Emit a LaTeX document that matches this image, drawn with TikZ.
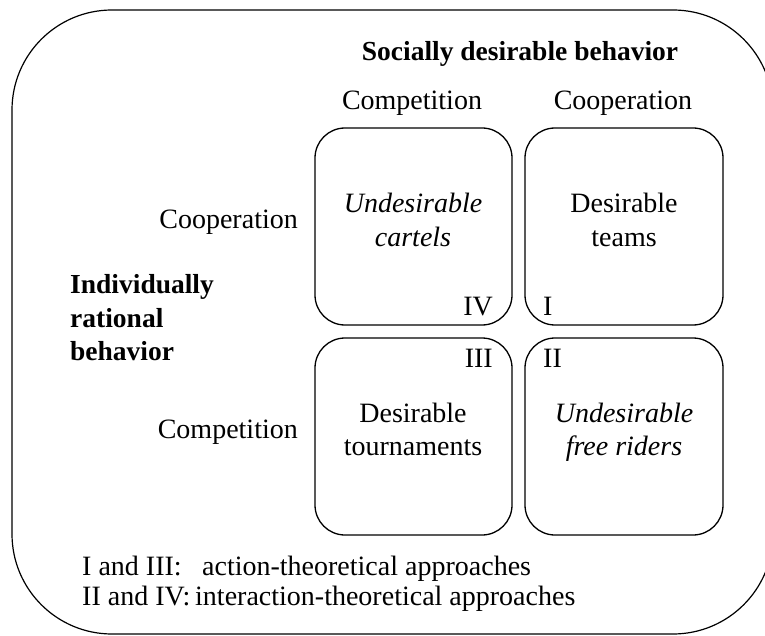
\documentclass[tikz,border=0pt]{standalone}
\usepackage{fontspec}
\setmainfont{Liberation Serif}
\begin{document}
\begin{tikzpicture}[x=1pt,y=-1pt,
  cell/.style={draw=black,line width=1.3pt,rounded corners=30pt},
  txt/.style={inner sep=0pt,font=\fontsize{28}{34}\selectfont},
  btxt/.style={inner sep=0pt,font=\fontsize{27.5}{33}\selectfont\bfseries},
  itxt/.style={inner sep=0pt,font=\fontsize{28}{34}\selectfont\itshape}]
\useasboundingbox (0,0) rectangle (765,636);
% outer frame
\draw[line width=1.2pt,rounded corners=100pt] (12,10) rectangle (773,634);
% cells
\draw[cell] (315,128) rectangle (512,325);
\draw[cell] (525,128) rectangle (723,325);
\draw[cell] (315,338) rectangle (512,535);
\draw[cell] (525,338) rectangle (723,535);
% headers
\node[btxt,anchor=base] (soc) at (520,61) {Socially desirable behavior};
\node[txt,anchor=base] (hcomp) at (412,110) {Competition};
\node[txt,anchor=base] (hcoop) at (623,110) {Cooperation};
\node[txt,anchor=base east] (rcoop) at (298,229) {Cooperation};
\node[txt,anchor=base east] (rcomp) at (298,438) {Competition};
\node[btxt,anchor=base west] (ind1) at (70,293) {Individually};
\node[btxt,anchor=base west] (ind2) at (70,327) {rational};
\node[btxt,anchor=base west] (ind3) at (70,360) {behavior};
% cell texts
\node[itxt,anchor=base] (a1) at (413,213) {Undesirable};
\node[itxt,anchor=base] (a2) at (413,247) {cartels};
\node[txt,anchor=base] (b1) at (624,213) {Desirable};
\node[txt,anchor=base] (b2) at (624,247) {teams};
\node[txt,anchor=base] (c1) at (413,422) {Desirable};
\node[txt,anchor=base] (c2) at (413,455) {tournaments};
\node[itxt,anchor=base] (d1) at (624,422) {Undesirable};
\node[itxt,anchor=base] (d2) at (624,455) {free riders};
% numerals
\node[txt,anchor=base east] (nIV) at (493,315) {IV};
\node[txt,anchor=base west] (nI) at (543,315) {I};
\node[txt,anchor=base east] (nIII) at (493,367) {III};
\node[txt,anchor=base west] (nII) at (543,367) {II};
% legend
\node[txt,anchor=base west] (l1) at (82,575) {I and III:};
\node[txt,anchor=base west] (l1b) at (202,575) {action-theoretical approaches};
\node[txt,anchor=base west] (l2) at (82,605) {II and IV:};
\node[txt,anchor=base west] (l2b) at (195,605) {interaction-theoretical approaches};
\end{tikzpicture}
\end{document}
